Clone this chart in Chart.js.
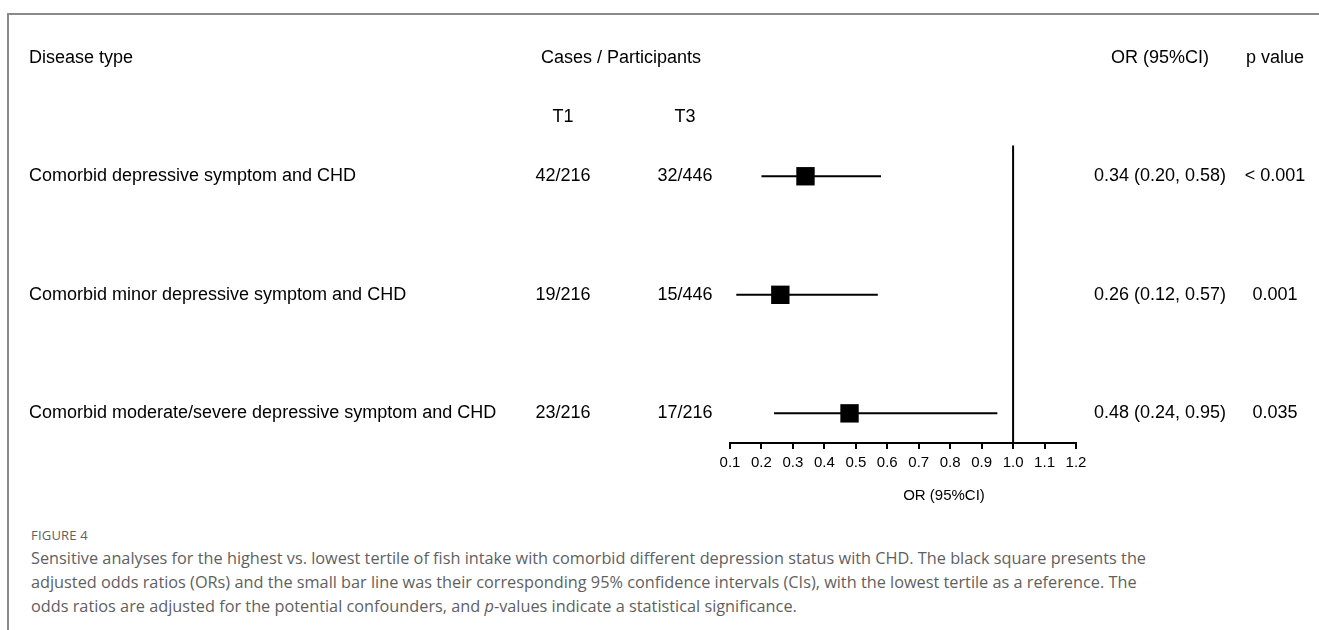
<!DOCTYPE html>
<html>
<head>
<meta charset="utf-8">
<script src="https://cdn.jsdelivr.net/npm/chart.js@4"></script>
<style>
  html, body { margin: 0; padding: 0; background: #fff; }
  body { width: 1319px; height: 630px; position: relative; overflow: hidden; }
  #frame {
    position: absolute; left: 7px; top: 13px; right: -10px; bottom: -10px;
    border-top: 2px solid #8a8a8a; border-left: 2px solid #8a8a8a;
  }
  #chart { position: absolute; left: 0; top: 0; }
  #caption {
    position: absolute; left: 31px; top: 524px;
    font-family: "Open Sans", sans-serif; color: #5f5f5f;
  }
  #caption .fig { font-size: 13px; letter-spacing: 0.2px; height: 22px; line-height: 22px; }
  #caption .line { font-size: 16.3px; height: 24px; line-height: 24px; white-space: nowrap; }
</style>
</head>
<body>
<div id="frame"></div>
<canvas id="chart" width="1319" height="515"></canvas>
<div id="caption">
  <div class="fig">FIGURE 4</div>
  <div class="line">Sensitive analyses for the highest vs. lowest tertile of fish intake with comorbid different depression status with CHD. The black square presents the</div>
  <div class="line">adjusted odds ratios (ORs) and the small bar line was their corresponding 95% confidence intervals (CIs), with the lowest tertile as a reference. The</div>
  <div class="line">odds ratios are adjusted for the potential confounders, and <i>p</i>-values indicate a statistical significance.</div>
</div>
<script>
// --- Data ---
const diseases = [
    'Comorbid depressive symptom and CHD',
    'Comorbid minor depressive symptom and CHD',
    'Comorbid moderate/severe depressive symptom and CHD'
];
const casesT1 = ['42/216', '19/216', '23/216'];
const casesT3 = ['32/446', '15/446', '17/216'];
const orValues = [0.34, 0.26, 0.48];
const ciLower = [0.20, 0.12, 0.24];
const ciUpper = [0.58, 0.57, 0.95];
const pValues = ['< 0.001', '0.001', '0.035'];
const xTicks = [0.1, 0.2, 0.3, 0.4, 0.5, 0.6, 0.7, 0.8, 0.9, 1.0, 1.1, 1.2];
const refValue = 1.0;

Chart.defaults.font.family = '"Liberation Sans", Arial, sans-serif';
Chart.defaults.color = '#000';

const rowY = diseases.map((d, i) => i + 1);

// CI lines, one dataset per row
const ciSets = diseases.map((d, i) => ({
    type: 'line',
    data: [{ x: ciLower[i], y: rowY[i] }, { x: ciUpper[i], y: rowY[i] }],
    borderColor: '#000',
    borderWidth: 2,
    pointRadius: 0,
    clip: false
}));

// text columns drawn at the rows of the y scale
const textColumns = {
    id: 'textColumns',
    afterDraw(chart) {
        const ctx = chart.ctx;
        const ys = chart.scales.y;
        ctx.save();
        ctx.fillStyle = '#000';
        ctx.textBaseline = 'middle';
        ctx.font = '18px "Liberation Sans", Arial, sans-serif';

        const headY = ys.getPixelForValue(0);
        const subY = ys.getPixelForValue(0.5);
        ctx.textAlign = 'left';
        ctx.fillText('Disease type', 29, headY);
        ctx.textAlign = 'center';
        ctx.fillText('Cases / Participants', 621, headY);
        ctx.fillText('OR (95%CI)', 1160, headY);
        ctx.fillText('p value', 1275, headY);
        ctx.fillText('T1', 563, subY);
        ctx.fillText('T3', 685, subY);

        diseases.forEach((d, i) => {
            const y = ys.getPixelForValue(rowY[i]);
            ctx.textAlign = 'left';
            ctx.fillText(d, 29, y);
            ctx.textAlign = 'center';
            ctx.fillText(casesT1[i], 563, y);
            ctx.fillText(casesT3[i], 685, y);
            ctx.fillText(orValues[i].toFixed(2) + ' (' + ciLower[i].toFixed(2) + ', ' + ciUpper[i].toFixed(2) + ')', 1160, y);
            ctx.fillText(pValues[i], 1275, y);
        });

        // axis title
        ctx.font = '15px "Liberation Sans", Arial, sans-serif';
        ctx.fillText('OR (95%CI)', 944, 496);
        ctx.restore();
    }
};

new Chart(document.getElementById('chart'), {
    type: 'scatter',
    data: {
        datasets: [
            ...ciSets,
            {
                type: 'line',
                data: [{ x: refValue, y: 0.74 }, { x: refValue, y: 3.25 }],
                borderColor: '#000',
                borderWidth: 2,
                pointRadius: 0,
                clip: false
            },
            {
                type: 'scatter',
                data: orValues.map((v, i) => ({ x: v, y: rowY[i] })),
                pointStyle: 'rect',
                pointRadius: 13,
                backgroundColor: '#000',
                borderColor: '#000',
                borderWidth: 0,
                clip: false
            }
        ]
    },
    options: {
        responsive: false,
        animation: false,
        layout: { padding: { left: 730, right: 243, top: 34, bottom: 0 } },
        plugins: { legend: { display: false }, tooltip: { enabled: false } },
        scales: {
            x: {
                type: 'linear',
                min: 0.1,
                max: 1.2,
                afterBuildTicks: s => { s.ticks = xTicks.map(v => ({ value: v })); },
                afterFit: s => { s.height = 72; },
                ticks: {
                    font: { size: 15 },
                    color: '#000',
                    padding: 5,
                    maxRotation: 0,
                    autoSkip: false,
                    callback: v => Number(v).toFixed(1)
                },
                grid: { drawOnChartArea: false, drawTicks: true, tickLength: 6, color: '#000', lineWidth: 2 },
                border: { display: true, color: '#000', width: 2 }
            },
            y: {
                type: 'linear',
                display: false,
                reverse: true,
                min: -0.2,
                max: 3.25
            }
        }
    },
    plugins: [textColumns]
});
</script>
</body>
</html>
